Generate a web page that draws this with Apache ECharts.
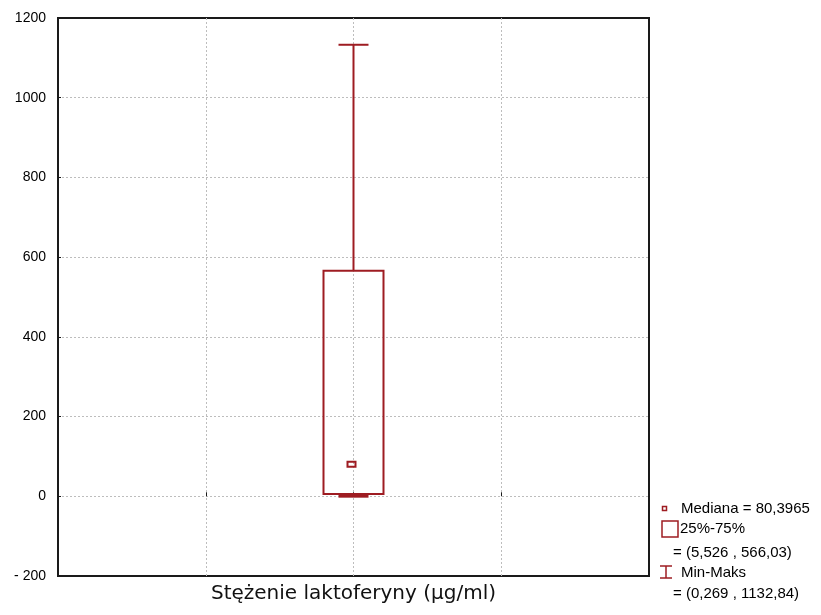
<!DOCTYPE html>
<html>
<head>
<meta charset="utf-8">
<script src="https://cdn.jsdelivr.net/npm/echarts@6/dist/echarts.min.js"></script>
<style>html,body{margin:0;padding:0;background:#fff}#c{width:821px;height:615px}</style>
</head>
<body>
<div id="c"></div>
<script>
const categories = ['', '', 'Stężenie laktoferyny (μg/ml)', '', ''];
const boxIndex = [2];
const minValues = [0.269];
const q1Values = [5.526];
const medianValues = [80.3965];
const q3Values = [566.03];
const maxValues = [1132.84];
const yTicks = [-200, 0, 200, 400, 600, 800, 1000, 1200];

const RED = '#9e1c22';
const fmt = v => String(v).replace('.', ',');

const boxData = boxIndex.map((x, i) => [x, minValues[i], q1Values[i], medianValues[i], q3Values[i], maxValues[i]]);

const chart = echarts.init(document.getElementById('c'), null, {renderer: 'canvas'});
const option = {
  animation: false,
  backgroundColor: '#fff',
  grid: {left: 58, top: 18, right: 172, bottom: 39, show: true, borderColor: '#1a1a1a', borderWidth: 2, backgroundColor: 'transparent'},
  xAxis: {
    type: 'category',
    data: categories,
    boundaryGap: false,
    axisLine: {show: false},
    axisTick: {show: true, inside: true, length: 4, interval: 0, lineStyle: {color: '#1a1a1a'}},
    axisLabel: {interval: 0, color: '#111', fontFamily: 'DejaVu Sans', fontSize: 20, margin: 8},
    splitLine: {show: true, interval: 0, showMinLine: false, showMaxLine: false, lineStyle: {color: '#bdbdbd', type: [2, 2], width: 1}}
  },
  yAxis: {
    type: 'value',
    min: yTicks[0],
    max: yTicks[yTicks.length - 1],
    interval: 200,
    axisLine: {show: false},
    axisTick: {show: true, inside: true, length: 3, lineStyle: {color: '#1a1a1a'}},
    axisLabel: {color: '#000', fontFamily: 'Liberation Sans', fontSize: 14, margin: 12,
      formatter: v => v < 0 ? '- ' + Math.abs(v) : String(v)},
    splitLine: {show: true, showMinLine: false, showMaxLine: false, lineStyle: {color: '#bdbdbd', type: [2, 2], width: 1}}
  },
  series: [{
    type: 'custom',
    data: boxData,
    encode: {x: 0, y: [1, 2, 3, 4, 5]},
    renderItem: function (params, api) {
      const x = api.value(0);
      const pMin = api.coord([x, api.value(1)]);
      const pQ1 = api.coord([x, api.value(2)]);
      const pMed = api.coord([x, api.value(3)]);
      const pQ3 = api.coord([x, api.value(4)]);
      const pMax = api.coord([x, api.value(5)]);
      const cx = pMin[0];
      const hw = 30, cw = 15;
      const st = {stroke: RED, lineWidth: 2, fill: null};
      return {
        type: 'group',
        children: [
          {type: 'line', shape: {x1: cx, y1: pQ3[1], x2: cx, y2: pMax[1]}, style: st},
          {type: 'line', shape: {x1: cx - cw, y1: pMax[1], x2: cx + cw, y2: pMax[1]}, style: st},
          {type: 'line', shape: {x1: cx, y1: pQ1[1], x2: cx, y2: pMin[1]}, style: st},
          {type: 'line', shape: {x1: cx - cw, y1: pMin[1], x2: cx + cw, y2: pMin[1]}, style: {stroke: RED, lineWidth: 3}},
          {type: 'rect', shape: {x: cx - hw, y: pQ3[1], width: 2 * hw, height: pQ1[1] - pQ3[1]}, style: st},
          {type: 'rect', shape: {x: cx - 6, y: pMed[1] - 2.5, width: 8, height: 5}, style: st}
        ]
      };
    }
  }],
  graphic: [
    {type: 'rect', shape: {x: 662.5, y: 506.5, width: 4, height: 4}, style: {stroke: RED, lineWidth: 1.5, fill: null}},
    {type: 'text', x: 681, y: 509, style: {text: 'Mediana = ' + fmt(medianValues[0]), font: '15px "Liberation Sans"', fill: '#000', verticalAlign: 'middle'}},
    {type: 'rect', shape: {x: 662, y: 521, width: 16, height: 16}, style: {stroke: RED, lineWidth: 1.5, fill: null}},
    {type: 'text', x: 680, y: 529, style: {text: '25%-75%', font: '15px "Liberation Sans"', fill: '#000', verticalAlign: 'middle'}},
    {type: 'text', x: 673, y: 553, style: {text: '= (' + fmt(q1Values[0]) + ' , ' + fmt(q3Values[0]) + ')', font: '15px "Liberation Sans"', fill: '#000', verticalAlign: 'middle'}},
    {type: 'line', shape: {x1: 660, y1: 566, x2: 672, y2: 566}, style: {stroke: RED, lineWidth: 1.5}},
    {type: 'line', shape: {x1: 666, y1: 566, x2: 666, y2: 578}, style: {stroke: RED, lineWidth: 1.5}},
    {type: 'line', shape: {x1: 660, y1: 578, x2: 672, y2: 578}, style: {stroke: RED, lineWidth: 1.5}},
    {type: 'text', x: 681, y: 573, style: {text: 'Min-Maks', font: '15px "Liberation Sans"', fill: '#000', verticalAlign: 'middle'}},
    {type: 'text', x: 673, y: 594, style: {text: '= (' + fmt(minValues[0]) + ' , ' + fmt(maxValues[0]) + ')', font: '15px "Liberation Sans"', fill: '#000', verticalAlign: 'middle'}}
  ]
};
chart.setOption(option);
</script>
</body>
</html>
